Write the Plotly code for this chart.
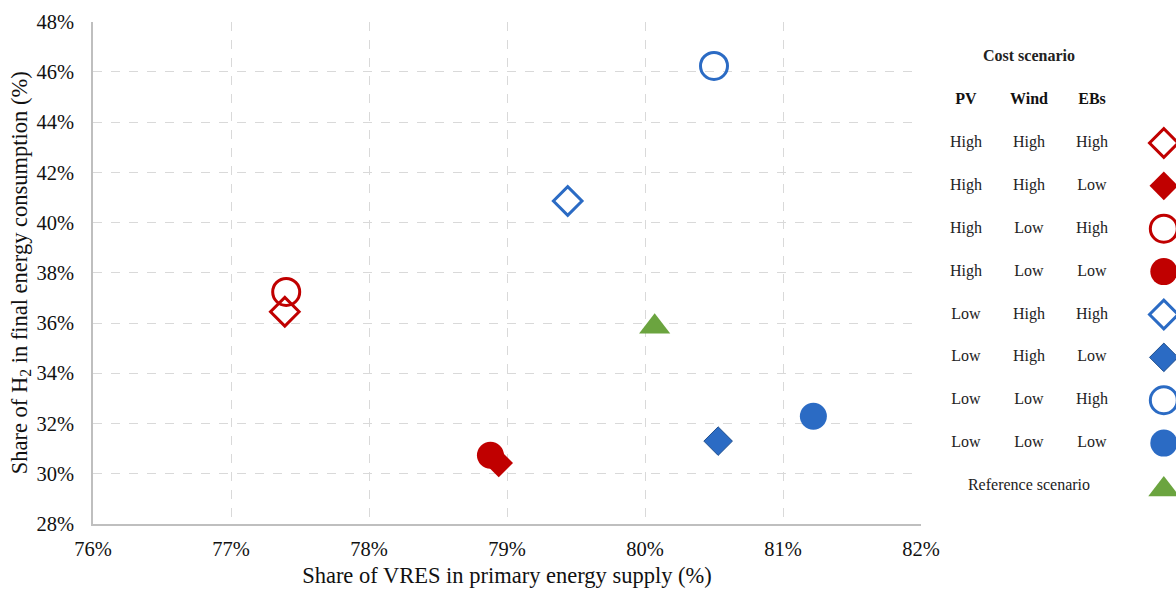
import plotly.graph_objects as go

# ---- data ----
scenario_pv = ["High", "High", "High", "High", "Low", "Low", "Low", "Low"]
scenario_wind = ["High", "High", "Low", "Low", "High", "High", "Low", "Low"]
scenario_ebs = ["High", "Low", "High", "Low", "High", "Low", "High", "Low"]
vres_share = [77.39, 78.94, 77.40, 78.88, 79.44, 80.53, 80.50, 81.22]
h2_share = [36.45, 30.43, 37.24, 30.74, 40.86, 31.30, 46.24, 32.29]
ref_vres = [80.07]
ref_h2 = [35.85]

x_ticks = [76, 77, 78, 79, 80, 81, 82]
y_ticks = [28, 30, 32, 34, 36, 38, 40, 42, 44, 46, 48]

# ---- styles ----
RED = "#C00000"
BLUE = "#2B6BC4"
GREEN = "#6BA43F"
FONT = "Liberation Serif"

symbols = ["diamond-open", "diamond", "circle-open", "circle",
           "diamond-open", "diamond", "circle-open", "circle"]
colors = [RED] * 4 + [BLUE] * 4


def msize(sym):
    if sym.startswith("diamond"):
        return 22
    return 27


def mline(sym, col):
    if sym.endswith("open"):
        return dict(color=col, width=3)
    if sym == "diamond" and col == BLUE:
        return dict(color="#1F4F8F", width=1)
    return dict(color=col, width=0)


# the page body margin is removed (post_script), so the figure fills the window
W, H = 1176, 593
L, R, T, B = 93, 921, 21.7, 524

fig = go.Figure()

# main scatter
for i in range(len(vres_share)):
    fig.add_trace(go.Scatter(
        x=[vres_share[i]], y=[h2_share[i]], mode="markers",
        marker=dict(symbol=symbols[i], size=msize(symbols[i]), color=colors[i],
                    line=mline(symbols[i], colors[i])),
        showlegend=False, hoverinfo="x+y", cliponaxis=False,
        xaxis="x", yaxis="y"))
fig.add_trace(go.Scatter(
    x=ref_vres, y=ref_h2, mode="markers",
    marker=dict(symbol="triangle-up", size=27, color=GREEN, line=dict(width=0)),
    showlegend=False, cliponaxis=False, xaxis="x", yaxis="y"))

# ---- legend table (own axes: column index / row index) ----
rows = list(range(len(scenario_pv)))
tab_font = dict(family=FONT, size=16, color="#222222")
for col, vals in enumerate([scenario_pv, scenario_wind, scenario_ebs]):
    fig.add_trace(go.Scatter(
        x=[col] * len(vals), y=rows, mode="text", text=vals,
        textfont=tab_font, showlegend=False, hoverinfo="skip",
        xaxis="x2", yaxis="y2"))
headers = ["PV", "Wind", "EBs"]
fig.add_trace(go.Scatter(
    x=[0, 1, 2], y=[-1] * 3, mode="text",
    text=["<b>%s</b>" % h for h in headers],
    textfont=dict(family=FONT, size=16, color="#111111"),
    showlegend=False, hoverinfo="skip", xaxis="x2", yaxis="y2"))
fig.add_trace(go.Scatter(
    x=[1, 1], y=[-2, len(rows)], mode="text",
    text=["<b>Cost scenario</b>", "Reference scenario"],
    textfont=dict(family=FONT, size=16, color="#222222"),
    showlegend=False, hoverinfo="skip", xaxis="x2", yaxis="y2"))
marker_col = 3.14
for i in rows:
    fig.add_trace(go.Scatter(
        x=[marker_col], y=[i], mode="markers",
        marker=dict(symbol=symbols[i], size=msize(symbols[i]), color=colors[i],
                    line=mline(symbols[i], colors[i])),
        showlegend=False, hoverinfo="skip", cliponaxis=False,
        xaxis="x2", yaxis="y2"))
fig.add_trace(go.Scatter(
    x=[marker_col], y=[len(rows) + 0.08], mode="markers",
    marker=dict(symbol="triangle-up", size=27, color=GREEN, line=dict(width=0)),
    showlegend=False, hoverinfo="skip", cliponaxis=False,
    xaxis="x2", yaxis="y2"))

grid = dict(showgrid=True, gridcolor="#D9D9D9", griddash="dash", gridwidth=1,
            zeroline=False, automargin=False)
tickfont = dict(family=FONT, size=20.5, color="#111111")

# legend table axes: column 0 at x=966 px, 63 px per column;
# row 0 at y=143 px, 42.875 px per row
x2_left = 930
row0 = 143

fig.update_layout(
    template="none",
    width=W, height=H,
    margin=dict(l=0, r=0, t=0, b=0, pad=0),
    paper_bgcolor="white", plot_bgcolor="white",
    font=dict(family=FONT, color="#111111"),
    xaxis=dict(domain=[L / W, R / W], range=[76, 82], tickvals=x_ticks,
               ticktext=["%d%%" % v for v in x_ticks], tickfont=tickfont,
               showline=True, linecolor="#BFBFBF", linewidth=1.5,
               ticks="", ticklabelstandoff=6,
               title=dict(text="Share of VRES in primary energy supply (%)",
                          font=dict(family=FONT, size=22.5, color="#111111"),
                          standoff=8),
               anchor="y", **grid),
    yaxis=dict(domain=[1 - B / H, 1 - T / H], range=[28, 48], tickvals=y_ticks,
               ticktext=["%d%%" % v for v in y_ticks], tickfont=tickfont,
               showline=True, linecolor="#BFBFBF", linewidth=1.5,
               ticks="", ticklabelstandoff=13,
               title=dict(text="Share of H<sub>2</sub> in final energy consumption (%)",
                          font=dict(family=FONT, size=22.5, color="#111111"),
                          standoff=3),
               anchor="x", **grid),
    xaxis2=dict(domain=[x2_left / W, 1],
                range=[-(966 - x2_left) / 63, (W - 966) / 63], visible=False,
                anchor="y2", fixedrange=True, automargin=False),
    yaxis2=dict(domain=[0, 1], range=[(H - row0) / 42.875, -row0 / 42.875],
                visible=False, anchor="x2", fixedrange=True, automargin=False),
)

fig.write_html(
    "out.html",
    config={"displayModeBar": False},
    post_script="document.body.style.margin='0';"
                "document.body.style.overflow='hidden';",
)
